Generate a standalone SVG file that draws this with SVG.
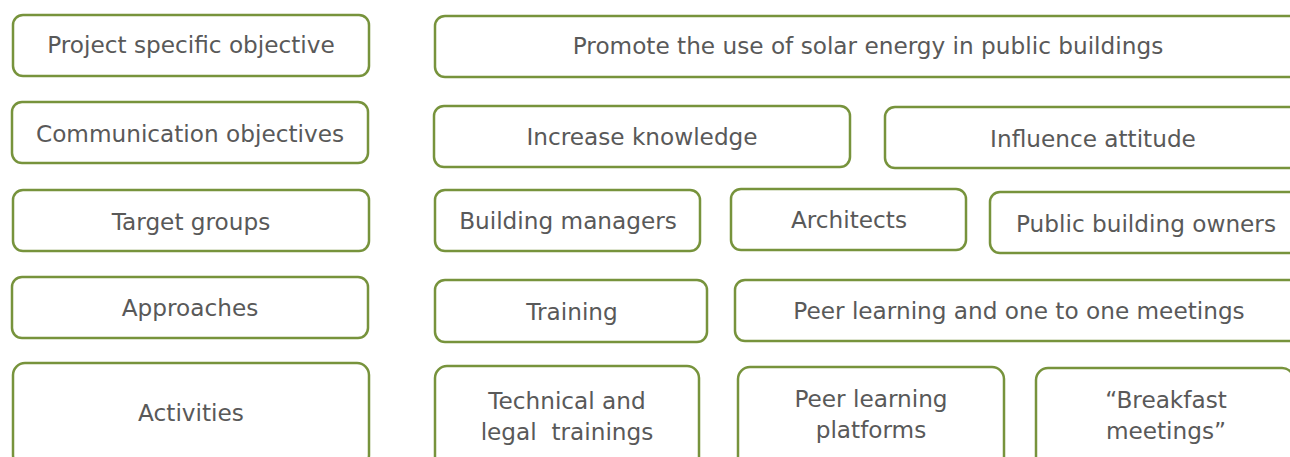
<svg xmlns="http://www.w3.org/2000/svg" width="1290" height="457" viewBox="0 0 1290 457">
<style>
.box{fill:#ffffff;stroke:#77933C;stroke-width:2.5}
.lbl{font-family:"DejaVu Sans","Liberation Sans",sans-serif;font-size:23.2px;fill:#595959;text-anchor:middle}
</style>
<rect width="1290" height="457" fill="#ffffff"/>
<g id="connectors"></g>
<g id="n-project"><rect class="box" x="13" y="15" width="356" height="61" rx="10"/><text class="lbl" x="191" y="53">Project specific objective</text></g>
<g id="n-comm"><rect class="box" x="12" y="102" width="356" height="61" rx="10"/><text class="lbl" x="190" y="142">Communication objectives</text></g>
<g id="n-target"><rect class="box" x="13" y="190" width="356" height="61" rx="10"/><text class="lbl" x="191" y="230">Target groups</text></g>
<g id="n-approaches"><rect class="box" x="12" y="277" width="356" height="61" rx="10"/><text class="lbl" x="190" y="316">Approaches</text></g>
<g id="n-activities"><rect class="box" x="13" y="363" width="356" height="104" rx="12"/><text class="lbl" x="191" y="421">Activities</text></g>
<g id="n-promote"><rect class="box" x="435" y="16" width="867" height="61" rx="10"/><text class="lbl" x="868" y="54">Promote the use of solar energy in public buildings</text></g>
<g id="n-knowledge"><rect class="box" x="434" y="106" width="416" height="61" rx="10"/><text class="lbl" x="642" y="145">Increase knowledge</text></g>
<g id="n-attitude"><rect class="box" x="885" y="107" width="416" height="61" rx="10"/><text class="lbl" x="1093" y="147">Influence attitude</text></g>
<g id="n-managers"><rect class="box" x="435" y="190" width="265" height="61" rx="10"/><text class="lbl" x="568" y="229">Building managers</text></g>
<g id="n-architects"><rect class="box" x="731" y="189" width="235" height="61" rx="10"/><text class="lbl" x="849" y="228">Architects</text></g>
<g id="n-owners"><rect class="box" x="990" y="192" width="312" height="61" rx="10"/><text class="lbl" x="1146" y="232">Public building owners</text></g>
<g id="n-training"><rect class="box" x="435" y="280" width="272" height="62" rx="10"/><text class="lbl" x="572" y="320">Training</text></g>
<g id="n-peer"><rect class="box" x="735" y="280" width="568" height="61" rx="10"/><text class="lbl" x="1019" y="319">Peer learning and one to one meetings</text></g>
<g id="n-technical"><rect class="box" x="435" y="366" width="264" height="104" rx="12"/><text class="lbl" x="567" y="409">Technical and</text><text class="lbl" x="567" y="440" xml:space="preserve">legal  trainings</text></g>
<g id="n-platforms"><rect class="box" x="738" y="367" width="266" height="104" rx="12"/><text class="lbl" x="871" y="407">Peer learning</text><text class="lbl" x="871" y="438">platforms</text></g>
<g id="n-breakfast"><rect class="box" x="1036" y="368" width="258" height="104" rx="12"/><text class="lbl" x="1166" y="408">“Breakfast</text><text class="lbl" x="1166" y="439">meetings”</text></g>
</svg>
